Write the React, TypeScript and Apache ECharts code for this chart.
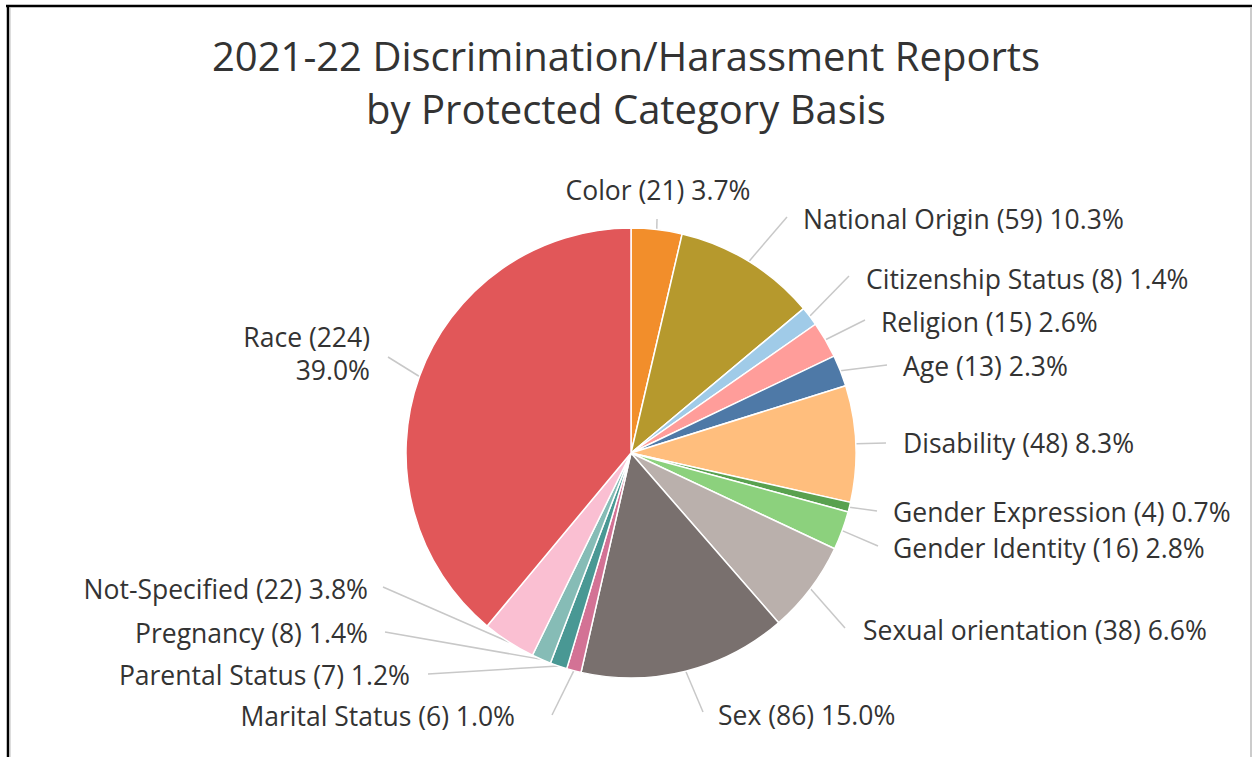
import React, { useEffect, useRef } from "react";
import * as echarts from "echarts";

const categories = [
  "Color",
  "National Origin",
  "Citizenship Status",
  "Religion",
  "Age",
  "Disability",
  "Gender Expression",
  "Gender Identity",
  "Sexual orientation",
  "Sex",
  "Marital Status",
  "Parental Status",
  "Pregnancy",
  "Not-Specified",
  "Race",
];
const counts = [21, 59, 8, 15, 13, 48, 4, 16, 38, 86, 6, 7, 8, 22, 224];

const sliceColors = [
  "#F28E2B",
  "#B6992D",
  "#A0CBE8",
  "#FF9D9A",
  "#4E79A7",
  "#FFBE7D",
  "#59A14F",
  "#8CD17D",
  "#BAB0AC",
  "#79706E",
  "#D37295",
  "#499894",
  "#86BCB6",
  "#FABFD2",
  "#E15759",
];

// label placement (style/layout only): line end point, label anchor, alignment
const labelSpots: { end: number[]; at: number[]; align: string }[] = [
  { end: [657, 219], at: [658, 190], align: "center" },
  { end: [787, 217], at: [803, 219], align: "left" },
  { end: [849, 276], at: [866, 279], align: "left" },
  { end: [865, 320], at: [881, 322], align: "left" },
  { end: [887, 365], at: [903, 366], align: "left" },
  { end: [886, 443], at: [903, 443], align: "left" },
  { end: [877, 511], at: [893, 512], align: "left" },
  { end: [878, 546], at: [893, 548], align: "left" },
  { end: [845, 628], at: [863, 630], align: "left" },
  { end: [703, 712], at: [718, 715], align: "left" },
  { end: [552, 715], at: [515, 716], align: "right" },
  { end: [428, 674], at: [410, 675], align: "right" },
  { end: [385, 632], at: [368, 633], align: "right" },
  { end: [383, 587], at: [368, 589], align: "right" },
  { end: [388, 357], at: [370, 353], align: "right" },
];

const CX = 631;
const CY = 453;
const R = 225;
const FONT = "'Open Sans', 'Noto Sans', sans-serif";
const TEXT = "#333333";

export default function App() {
  const ref = useRef<HTMLDivElement>(null);

  useEffect(() => {
    document.body.style.margin = "0";
    if (!ref.current) return;
    const chart = echarts.init(ref.current, null, { renderer: "svg" });
    const total = counts.reduce((a, b) => a + b, 0);

    const edgePoint = (idx: number) => {
      let before = 0;
      for (let i = 0; i < idx; i++) before += counts[i];
      const mid = ((before + counts[idx] / 2) / total) * Math.PI * 2;
      return [CX + R * Math.sin(mid), CY - R * Math.cos(mid)];
    };

    const data = categories.map((name, i) => ({
      name,
      value: counts[i],
      itemStyle: { color: sliceColors[i] },
      label:
        name === "Race"
          ? {
              formatter: `${name} (${counts[i]})\n${((counts[i] / total) * 100).toFixed(1)}%`,
              lineHeight: 33,
            }
          : undefined,
    }));

    chart.setOption({
      animation: false,
      backgroundColor: "#ffffff",
      title: {
        text: "2021-22 Discrimination/Harassment Reports\nby Protected Category Basis",
        left: "center",
        top: 29,
        padding: 0,
        textStyle: {
          fontFamily: FONT,
          fontSize: 40,
          fontWeight: "normal",
          color: TEXT,
          lineHeight: 53,
          align: "center",
        },
      },
      graphic: [
        { type: "line", shape: { x1: 6, y1: 6, x2: 1252, y2: 6 }, style: { stroke: "#000", lineWidth: 2.5 } },
        { type: "line", shape: { x1: 8, y1: 5, x2: 8, y2: 757 }, style: { stroke: "#000", lineWidth: 2.5 } },
        { type: "line", shape: { x1: 10, y1: 7, x2: 10, y2: 757 }, style: { stroke: "#bbbbbb", lineWidth: 1 } },
        { type: "line", shape: { x1: 1251, y1: 7, x2: 1251, y2: 757 }, style: { stroke: "#bbbbbb", lineWidth: 1.5 } },
      ],
      series: [
        {
          type: "pie",
          center: [CX, CY],
          radius: [0, R],
          startAngle: 90,
          clockwise: true,
          avoidLabelOverlap: false,
          minShowLabelAngle: 0,
          data,
          itemStyle: { borderColor: "#ffffff", borderWidth: 1.5 },
          label: {
            show: true,
            position: "outside",
            fontFamily: FONT,
            fontSize: 26.5,
            color: TEXT,
            formatter: (p: any) =>
              `${p.name} (${p.value}) ${((p.value / total) * 100).toFixed(1)}%`,
          },
          labelLine: {
            show: true,
            length: 20,
            length2: 10,
            lineStyle: { color: "#c8c8c8", width: 1.5 },
          },
          labelLayout: (params: any) => {
            const s = labelSpots[params.dataIndex];
            const start =
              params.labelLinePoints && params.labelLinePoints[0]
                ? params.labelLinePoints[0]
                : edgePoint(params.dataIndex);
            return {
              x: s.at[0],
              y: s.at[1],
              align: s.align,
              verticalAlign: "middle",
              labelLinePoints: [start, s.end],
            };
          },
        },
      ],
    });
    return () => chart.dispose();
  }, []);

  return <div ref={ref} style={{ width: 1252, height: 757 }} />;
}
